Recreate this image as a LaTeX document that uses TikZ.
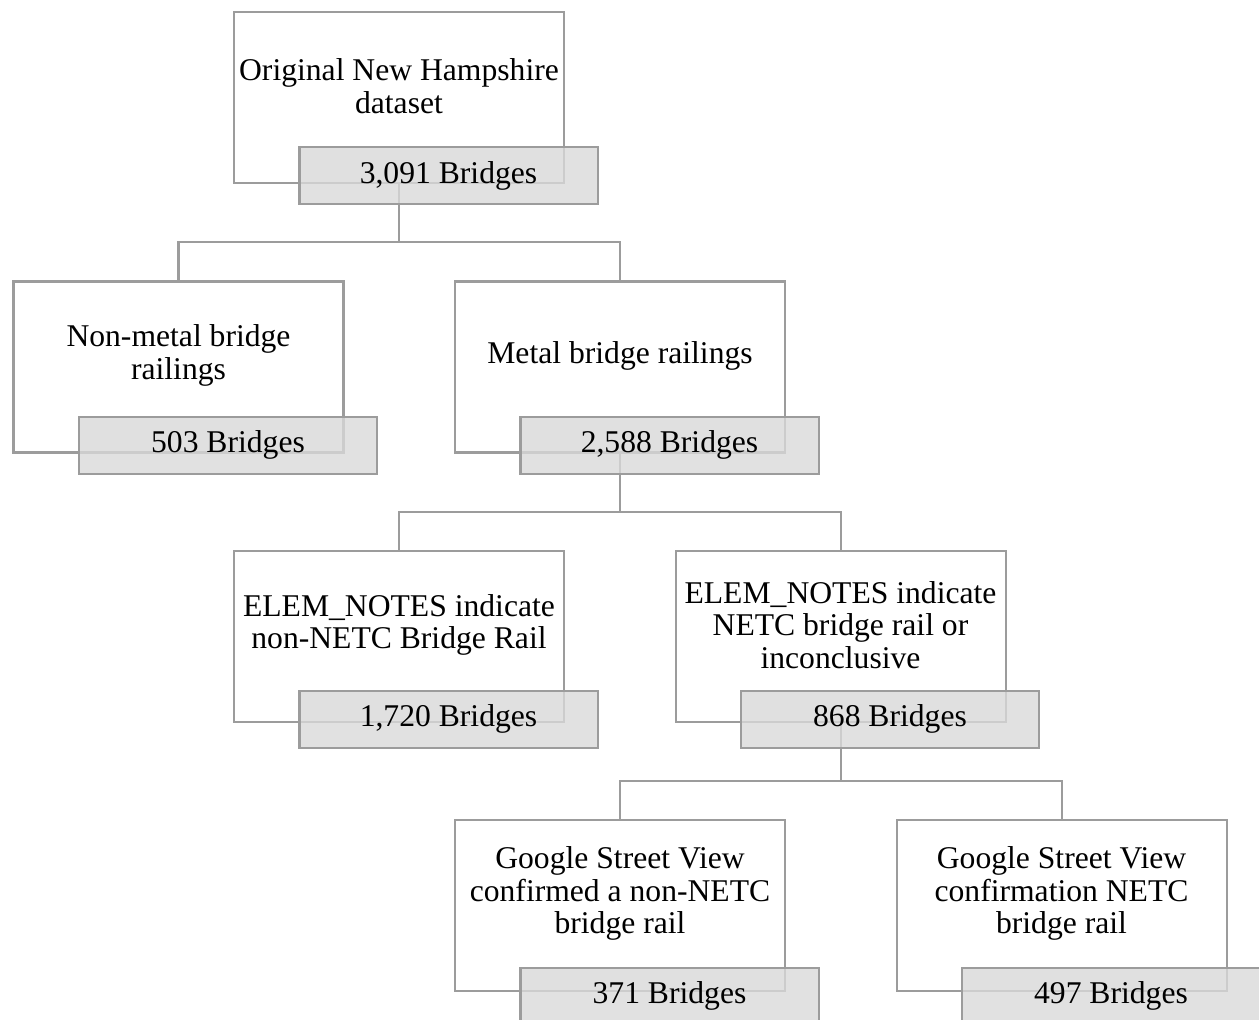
\documentclass[tikz,border=0pt]{standalone}
\usepackage{fontspec}
\setmainfont{Liberation Serif}
\usetikzlibrary{positioning}
\definecolor{linegray}{HTML}{9C9C9C}
\definecolor{countfill}{HTML}{D9D9D9}
\tikzset{
  stagebox/.style={draw=linegray, line width=1.15pt, fill=white,
    minimum width=6.6cm, minimum height=3.42cm, inner sep=0pt},
  stagetext/.style={align=center, inner sep=0pt,
    font=\fontsize{18}{18.5}\selectfont},
  countbox/.style={draw=linegray, line width=1.15pt, fill=countfill,
    fill opacity=0.8, text opacity=1, anchor=north west,
    minimum width=5.96cm, minimum height=1.14cm, inner sep=0pt,
    font=\fontsize{18}{18.5}\selectfont},
  link/.style={draw=linegray, line width=1.15pt}
}
\begin{document}
\begin{tikzpicture}[line cap=butt]
  \useasboundingbox (0,0) rectangle (25.18,-20.38);
  % stage boxes
  \node[stagebox] (orig) at (7.98,-1.95) {};
  \node[stagebox] (nonmetal) at (3.57,-7.34) {};
  \node[stagebox] (metal) at (12.40,-7.34) {};
  \node[stagebox] (elemnon) at (7.98,-12.73) {};
  \node[stagebox] (elemnetc) at (16.81,-12.73) {};
  \node[stagebox] (gsvnon) at (12.40,-18.10) {};
  \node[stagebox] (gsvnetc) at (21.23,-18.10) {};
  % stage texts
  \node[stagetext] (orig-t) at ([yshift=0.23cm]orig.center) {Original New Hampshire\\dataset};
  \node[stagetext] (nonmetal-t) at ([yshift=0.23cm]nonmetal.center) {Non-metal bridge\\railings};
  \node[stagetext] (metal-t) at ([yshift=0.23cm]metal.center) {Metal bridge railings};
  \node[stagetext] (elemnon-t) at ([yshift=0.23cm]elemnon.center) {ELEM\_NOTES indicate\\non-NETC Bridge Rail};
  \node[stagetext] (elemnetc-t) at ([yshift=0.23cm]elemnetc.center) {ELEM\_NOTES indicate\\NETC bridge rail or\\inconclusive};
  \node[stagetext] (gsvnon-t) at ([yshift=0.23cm]gsvnon.center) {Google Street View\\confirmed a non-NETC\\bridge rail};
  \node[stagetext] (gsvnetc-t) at ([yshift=0.23cm]gsvnetc.center) {Google Street View\\confirmation NETC\\bridge rail};
  % tree links
  \draw[link] (orig.south) -- ++(0,-1.16) -| (nonmetal.north);
  \draw[link] (orig.south) -- ++(0,-1.16) -| (metal.north);
  \draw[link] (metal.south) -- ++(0,-1.16) -| (elemnon.north);
  \draw[link] (metal.south) -- ++(0,-1.16) -| (elemnetc.north);
  \draw[link] (elemnetc.south) -- ++(0,-1.16) -| (gsvnon.north);
  \draw[link] (elemnetc.south) -- ++(0,-1.16) -| (gsvnetc.north);
  % bridge counts
  \node[countbox] (orig-n) at ([xshift=1.31cm,yshift=0.76cm]orig.south west) {3,091 Bridges};
  \node[countbox] (nonmetal-n) at ([xshift=1.31cm,yshift=0.76cm]nonmetal.south west) {503 Bridges};
  \node[countbox] (metal-n) at ([xshift=1.31cm,yshift=0.76cm]metal.south west) {2,588 Bridges};
  \node[countbox] (elemnon-n) at ([xshift=1.31cm,yshift=0.67cm]elemnon.south west) {1,720 Bridges};
  \node[countbox] (elemnetc-n) at ([xshift=1.31cm,yshift=0.67cm]elemnetc.south west) {868 Bridges};
  \node[countbox] (gsvnon-n) at ([xshift=1.31cm,yshift=0.5cm]gsvnon.south west) {371 Bridges};
  \node[countbox] (gsvnetc-n) at ([xshift=1.31cm,yshift=0.5cm]gsvnetc.south west) {497 Bridges};
\end{tikzpicture}
\end{document}
